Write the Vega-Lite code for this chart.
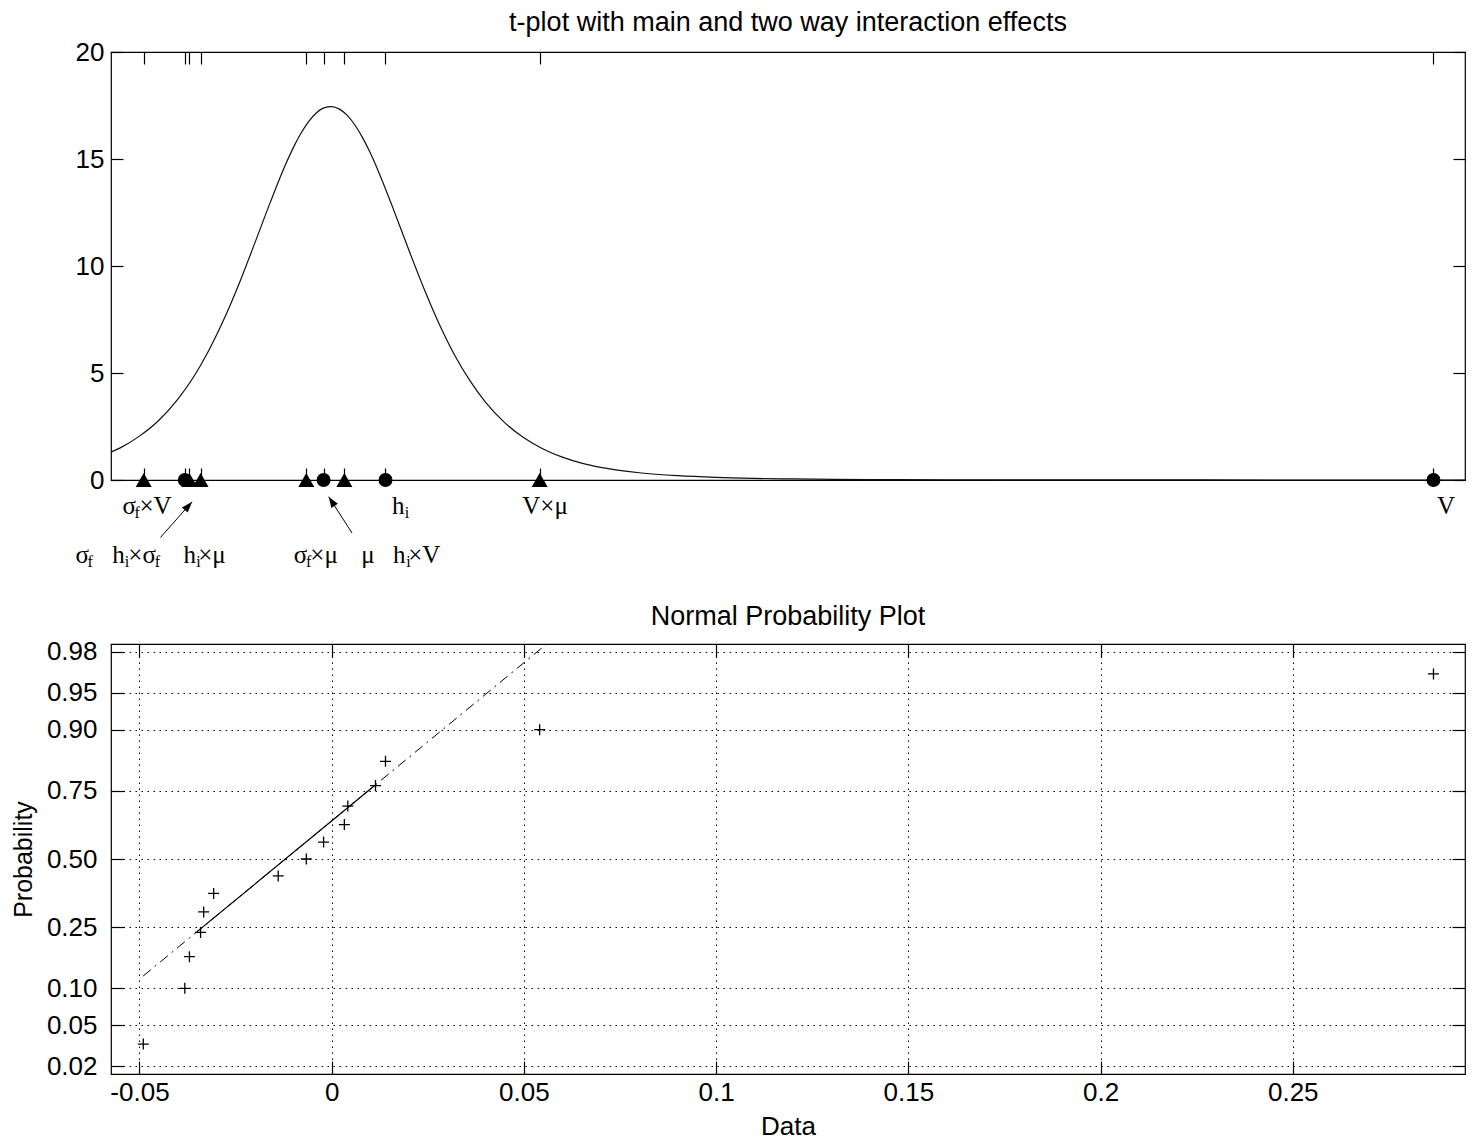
{
  "$schema": "https://vega.github.io/schema/vega-lite/v6.json",
  "background": "white",
  "padding": {"left": 10, "top": 8, "right": 10, "bottom": 2},
  "spacing": 31,
  "config": {
    "font": "Liberation Sans",
    "view": {"stroke": "#000", "strokeWidth": 1.2},
    "axis": {"domain": false, "grid": false, "tickColor": "#000", "tickWidth": 1.2, "labelColor": "#000", "labelFont": "Liberation Sans", "labelFontSize": 26, "labelFlush": false, "labelOverlap": false, "titleFont": "Liberation Sans", "titleFontSize": 26, "titleFontWeight": "normal", "titleColor": "#000"},
    "title": {"font": "Liberation Sans", "fontSize": 27, "fontWeight": "normal", "color": "#000"}
  },
  "datasets": {
    "tcurve": [
      {"x": -0.0574, "density": 1.30}, {"x": -0.055, "density": 1.50}, {"x": -0.05, "density": 2.05},
      {"x": -0.045, "density": 2.78}, {"x": -0.04, "density": 3.78}, {"x": -0.036, "density": 4.79},
      {"x": -0.032, "density": 6.04}, {"x": -0.028, "density": 7.52}, {"x": -0.024, "density": 9.21},
      {"x": -0.02, "density": 11.07}, {"x": -0.016, "density": 12.96}, {"x": -0.012, "density": 14.74},
      {"x": -0.01, "density": 15.52}, {"x": -0.008, "density": 16.20}, {"x": -0.006, "density": 16.75},
      {"x": -0.004, "density": 17.15}, {"x": -0.002, "density": 17.39}, {"x": 0, "density": 17.45},
      {"x": 0.002, "density": 17.33}, {"x": 0.004, "density": 17.05}, {"x": 0.006, "density": 16.60},
      {"x": 0.008, "density": 16.01}, {"x": 0.01, "density": 15.30}, {"x": 0.012, "density": 14.49},
      {"x": 0.016, "density": 12.68}, {"x": 0.02, "density": 10.78}, {"x": 0.024, "density": 8.95},
      {"x": 0.028, "density": 7.28}, {"x": 0.032, "density": 5.83}, {"x": 0.036, "density": 4.63},
      {"x": 0.04, "density": 3.64}, {"x": 0.045, "density": 2.68}, {"x": 0.05, "density": 1.97},
      {"x": 0.055, "density": 1.45}, {"x": 0.06, "density": 1.07}, {"x": 0.065, "density": 0.79},
      {"x": 0.07, "density": 0.59}, {"x": 0.08, "density": 0.34}, {"x": 0.09, "density": 0.20},
      {"x": 0.1, "density": 0.12}, {"x": 0.11, "density": 0.075}, {"x": 0.12, "density": 0.049},
      {"x": 0.14, "density": 0.022}, {"x": 0.16, "density": 0.011}, {"x": 0.2, "density": 0.003},
      {"x": 0.25, "density": 0.001}, {"x": 0.2948, "density": 0.0003}
    ],
    "effects": [
      {"effect": "σf×V", "x": -0.0489, "kind": "interaction"},
      {"effect": "σf", "x": -0.0382, "kind": "main"},
      {"effect": "hi×σf", "x": -0.0370, "kind": "interaction"},
      {"effect": "hi×μ", "x": -0.0341, "kind": "interaction"},
      {"effect": "σf×μ", "x": -0.0066, "kind": "interaction"},
      {"effect": "μ", "x": -0.0021, "kind": "main"},
      {"effect": "hi×V", "x": 0.0033, "kind": "interaction"},
      {"effect": "hi", "x": 0.0140, "kind": "main"},
      {"effect": "V×μ", "x": 0.0541, "kind": "interaction"},
      {"effect": "V", "x": 0.2866, "kind": "main"}
    ],
    "labels": [
      {"text": "σ", "x": -0.05442, "row": 1, "kind": "main"},
      {"text": "f", "x": -0.05130, "row": 1, "kind": "sub"},
      {"text": "×V", "x": -0.05000, "row": 1, "kind": "main"},
      {"text": "h", "x": 0.01570, "row": 1, "kind": "main"},
      {"text": "i", "x": 0.01900, "row": 1, "kind": "sub"},
      {"text": "V×μ", "x": 0.04958, "row": 1, "kind": "main"},
      {"text": "V", "x": 0.28750, "row": 1, "kind": "main"},
      {"text": "σ", "x": -0.06664, "row": 2, "kind": "main"},
      {"text": "f", "x": -0.06352, "row": 2, "kind": "sub"},
      {"text": "h", "x": -0.05710, "row": 2, "kind": "main"},
      {"text": "i", "x": -0.05380, "row": 2, "kind": "sub"},
      {"text": "×σ", "x": -0.05290, "row": 2, "kind": "main"},
      {"text": "f", "x": -0.04600, "row": 2, "kind": "sub"},
      {"text": "h", "x": -0.03856, "row": 2, "kind": "main"},
      {"text": "i", "x": -0.03520, "row": 2, "kind": "sub"},
      {"text": "×μ", "x": -0.03470, "row": 2, "kind": "main"},
      {"text": "σ", "x": -0.00988, "row": 2, "kind": "main"},
      {"text": "f", "x": -0.00666, "row": 2, "kind": "sub"},
      {"text": "×μ", "x": -0.00554, "row": 2, "kind": "main"},
      {"text": "μ", "x": 0.00772, "row": 2, "kind": "main"},
      {"text": "h", "x": 0.01596, "row": 2, "kind": "main"},
      {"text": "i", "x": 0.01940, "row": 2, "kind": "sub"},
      {"text": "×V", "x": 0.01990, "row": 2, "kind": "main"}
    ],
    "arrows": [
      {"x": -0.04454, "y": -2.685, "x2": -0.03630, "y2": -1.015, "angle": 41.6},
      {"x": 0.00530, "y": -2.479, "x2": -0.00078, "y2": -0.781, "angle": -32.8}
    ],
    "normplot": [
      {"x": -0.0490, "p": 0.0333, "z": -1.8339},
      {"x": -0.0382, "p": 0.1000, "z": -1.2816},
      {"x": -0.0370, "p": 0.1667, "z": -0.9674},
      {"x": -0.0341, "p": 0.2333, "z": -0.7279},
      {"x": -0.0333, "p": 0.3000, "z": -0.5244},
      {"x": -0.0307, "p": 0.3667, "z": -0.3407},
      {"x": -0.0139, "p": 0.4333, "z": -0.1679},
      {"x": -0.0066, "p": 0.5000, "z": 0},
      {"x": -0.0021, "p": 0.5667, "z": 0.1679},
      {"x": 0.0033, "p": 0.6333, "z": 0.3407},
      {"x": 0.0042, "p": 0.7000, "z": 0.5244},
      {"x": 0.0114, "p": 0.7667, "z": 0.7279},
      {"x": 0.0140, "p": 0.8333, "z": 0.9674},
      {"x": 0.0541, "p": 0.9000, "z": 1.2816},
      {"x": 0.2866, "p": 0.9667, "z": 1.8339}
    ],
    "fitline": [
      {"x": -0.04904, "z": -1.1595, "segment": "extended"},
      {"x": 0.05586, "z": 2.128, "segment": "extended"},
      {"x": -0.0350, "z": -0.7195, "segment": "quartiles"},
      {"x": 0.01136, "z": 0.7334, "segment": "quartiles"}
    ]
  },
  "vconcat": [
    {
      "title": {"text": "t-plot with main and two way interaction effects", "offset": 2},
      "width": 1354,
      "height": 428,
      "resolve": {"axis": {"x": "independent", "y": "independent"}},
      "layer": [
        {
          "data": {"name": "tcurve"},
          "mark": {"type": "line", "color": "#111", "strokeWidth": 1.2, "interpolate": "monotone"},
          "encoding": {
            "x": {"field": "x", "type": "quantitative", "scale": {"domain": [-0.0574, 0.2948], "nice": false, "zero": false},
                  "axis": {"orient": "bottom", "values": [-0.0489, -0.0382, -0.0370, -0.0341, -0.0066, -0.0021, 0.0033, 0.0140, 0.0541, 0.2866], "labels": false, "title": null, "tickSize": -12}},
            "y": {"field": "density", "type": "quantitative", "scale": {"domain": [0, 20], "nice": false, "zero": false},
                  "axis": {"orient": "left", "values": [0, 5, 10, 15, 20], "title": null, "tickSize": -12, "labelPadding": 19}}
          }
        },
        {
          "data": {"name": "tcurve"},
          "mark": {"type": "line", "opacity": 0},
          "encoding": {
            "x": {"field": "x", "type": "quantitative", "scale": {"domain": [-0.0574, 0.2948], "nice": false, "zero": false},
                  "axis": {"orient": "top", "values": [-0.0489, -0.0382, -0.0370, -0.0341, -0.0066, -0.0021, 0.0033, 0.0140, 0.0541, 0.2866], "labels": false, "title": null, "tickSize": -12}},
            "y": {"field": "density", "type": "quantitative", "scale": {"domain": [0, 20], "nice": false, "zero": false},
                  "axis": {"orient": "right", "values": [0, 5, 10, 15, 20], "labels": false, "title": null, "tickSize": -12}}
          }
        },
        {
          "data": {"name": "effects"},
          "transform": [{"filter": "datum.kind == 'main'"}],
          "mark": {"type": "point", "shape": "circle", "filled": true, "color": "#000", "opacity": 1, "size": 196},
          "encoding": {
            "x": {"field": "x", "type": "quantitative", "scale": {"domain": [-0.0574, 0.2948], "nice": false, "zero": false}, "axis": null},
            "y": {"datum": 0, "type": "quantitative", "scale": {"domain": [0, 20], "nice": false, "zero": false}, "axis": null}
          }
        },
        {
          "data": {"name": "effects"},
          "transform": [{"filter": "datum.kind == 'interaction'"}],
          "mark": {"type": "point", "shape": "triangle-up", "filled": true, "color": "#000", "opacity": 1, "size": 256},
          "encoding": {
            "x": {"field": "x", "type": "quantitative", "scale": {"domain": [-0.0574, 0.2948], "nice": false, "zero": false}, "axis": null},
            "y": {"datum": 0, "type": "quantitative", "scale": {"domain": [0, 20], "nice": false, "zero": false}, "axis": null}
          }
        },
        {
          "data": {"name": "arrows"},
          "mark": {"type": "rule", "color": "#000", "strokeWidth": 1},
          "encoding": {
            "x": {"field": "x", "type": "quantitative", "scale": {"domain": [-0.0574, 0.2948], "nice": false, "zero": false}, "axis": null},
            "y": {"field": "y", "type": "quantitative", "scale": {"domain": [0, 20], "nice": false, "zero": false}, "axis": null},
            "x2": {"field": "x2"},
            "y2": {"field": "y2"}
          }
        },
        {
          "data": {"name": "arrows"},
          "mark": {"type": "point", "shape": "M0,0L0.35,1L-0.35,1Z", "filled": true, "color": "#000", "opacity": 1, "size": 484},
          "encoding": {
            "x": {"field": "x2", "type": "quantitative", "scale": {"domain": [-0.0574, 0.2948], "nice": false, "zero": false}, "axis": null},
            "y": {"field": "y2", "type": "quantitative", "scale": {"domain": [0, 20], "nice": false, "zero": false}, "axis": null},
            "angle": {"field": "angle", "type": "quantitative", "scale": null}
          }
        },
        {
          "data": {"name": "labels"},
          "transform": [{"filter": "datum.row == 1 && datum.kind == 'main'"}],
          "mark": {"type": "text", "font": "Liberation Serif", "fontSize": 25, "align": "left", "baseline": "alphabetic", "dy": 34, "color": "#000"},
          "encoding": {
            "x": {"field": "x", "type": "quantitative", "scale": {"domain": [-0.0574, 0.2948], "nice": false, "zero": false}, "axis": null},
            "y": {"datum": 0, "type": "quantitative", "scale": {"domain": [0, 20], "nice": false, "zero": false}, "axis": null},
            "text": {"field": "text"}
          }
        },
        {
          "data": {"name": "labels"},
          "transform": [{"filter": "datum.row == 1 && datum.kind == 'sub'"}],
          "mark": {"type": "text", "font": "Liberation Serif", "fontSize": 16, "align": "left", "baseline": "alphabetic", "dy": 38, "color": "#000"},
          "encoding": {
            "x": {"field": "x", "type": "quantitative", "scale": {"domain": [-0.0574, 0.2948], "nice": false, "zero": false}, "axis": null},
            "y": {"datum": 0, "type": "quantitative", "scale": {"domain": [0, 20], "nice": false, "zero": false}, "axis": null},
            "text": {"field": "text"}
          }
        },
        {
          "data": {"name": "labels"},
          "transform": [{"filter": "datum.row == 2 && datum.kind == 'main'"}],
          "mark": {"type": "text", "font": "Liberation Serif", "fontSize": 25, "align": "left", "baseline": "alphabetic", "dy": 83, "color": "#000"},
          "encoding": {
            "x": {"field": "x", "type": "quantitative", "scale": {"domain": [-0.0574, 0.2948], "nice": false, "zero": false}, "axis": null},
            "y": {"datum": 0, "type": "quantitative", "scale": {"domain": [0, 20], "nice": false, "zero": false}, "axis": null},
            "text": {"field": "text"}
          }
        },
        {
          "data": {"name": "labels"},
          "transform": [{"filter": "datum.row == 2 && datum.kind == 'sub'"}],
          "mark": {"type": "text", "font": "Liberation Serif", "fontSize": 16, "align": "left", "baseline": "alphabetic", "dy": 87, "color": "#000"},
          "encoding": {
            "x": {"field": "x", "type": "quantitative", "scale": {"domain": [-0.0574, 0.2948], "nice": false, "zero": false}, "axis": null},
            "y": {"datum": 0, "type": "quantitative", "scale": {"domain": [0, 20], "nice": false, "zero": false}, "axis": null},
            "text": {"field": "text"}
          }
        }
      ]
    },
    {
      "title": {"text": "Normal Probability Plot", "offset": 8},
      "width": 1354,
      "height": 430,
      "resolve": {"axis": {"x": "independent", "y": "independent"}},
      "layer": [
        {
          "data": {"name": "normplot"},
          "mark": {"type": "point", "shape": "M-1,0L1,0M0,-1L0,1", "filled": false, "color": "#000", "strokeWidth": 1.3, "size": 121, "opacity": 1},
          "encoding": {
            "x": {"field": "x", "type": "quantitative", "scale": {"domain": [-0.0574, 0.2948], "nice": false, "zero": false},
                  "axis": {"orient": "bottom", "values": [-0.05, 0, 0.05, 0.1, 0.15, 0.2, 0.25], "labelExpr": "toString(datum.value)", "title": "Data", "tickSize": -13, "labelPadding": 18, "titlePadding": 8, "grid": true, "gridDash": [1.5, 4.5], "gridColor": "#000", "gridWidth": 1}},
            "y": {"field": "z", "type": "quantitative", "scale": {"domain": [-2.13, 2.13], "nice": false, "zero": false},
                  "axis": {"orient": "left", "values": [-2.0537, -1.6449, -1.2816, -0.6745, 0, 0.6745, 1.2816, 1.6449, 2.0537], "labelExpr": "format(cumulativeNormal(datum.value), '.2f')", "title": "Probability", "titleFontSize": 25, "tickSize": -13, "labelPadding": 27, "titlePadding": 10, "grid": true, "gridDash": [1.5, 4.5], "gridColor": "#000", "gridWidth": 1}}
          }
        },
        {
          "data": {"name": "fitline"},
          "transform": [{"filter": "datum.segment == 'extended'"}],
          "mark": {"type": "line", "color": "#000", "strokeWidth": 1, "strokeDash": [10, 5, 2, 5]},
          "encoding": {
            "x": {"field": "x", "type": "quantitative", "scale": {"domain": [-0.0574, 0.2948], "nice": false, "zero": false}, "axis": null},
            "y": {"field": "z", "type": "quantitative", "scale": {"domain": [-2.13, 2.13], "nice": false, "zero": false}, "axis": null}
          }
        },
        {
          "data": {"name": "fitline"},
          "transform": [{"filter": "datum.segment == 'quartiles'"}],
          "mark": {"type": "line", "color": "#000", "strokeWidth": 1.2},
          "encoding": {
            "x": {"field": "x", "type": "quantitative", "scale": {"domain": [-0.0574, 0.2948], "nice": false, "zero": false}, "axis": null},
            "y": {"field": "z", "type": "quantitative", "scale": {"domain": [-2.13, 2.13], "nice": false, "zero": false}, "axis": null}
          }
        },
        {
          "data": {"name": "normplot"},
          "mark": {"type": "point", "opacity": 0},
          "encoding": {
            "x": {"field": "x", "type": "quantitative", "scale": {"domain": [-0.0574, 0.2948], "nice": false, "zero": false},
                  "axis": {"orient": "top", "values": [-0.05, 0, 0.05, 0.1, 0.15, 0.2, 0.25], "labels": false, "title": null, "tickSize": -13}},
            "y": {"field": "z", "type": "quantitative", "scale": {"domain": [-2.13, 2.13], "nice": false, "zero": false},
                  "axis": {"orient": "right", "values": [-2.0537, -1.6449, -1.2816, -0.6745, 0, 0.6745, 1.2816, 1.6449, 2.0537], "labels": false, "title": null, "tickSize": -13}}
          }
        }
      ]
    }
  ]
}
